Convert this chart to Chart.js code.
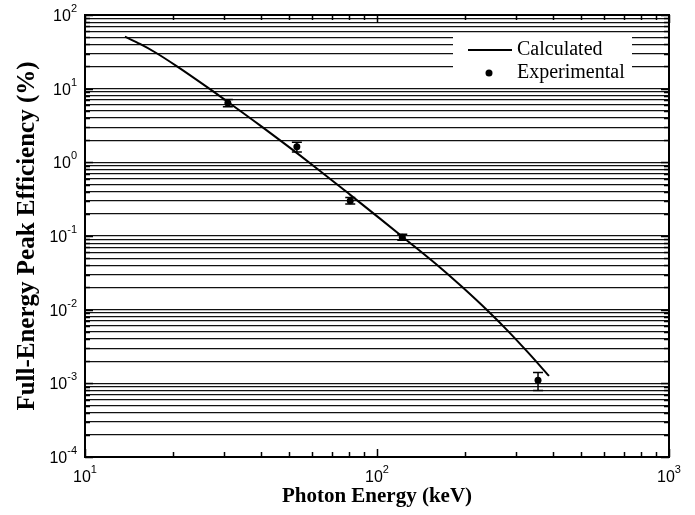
<!DOCTYPE html>
<html>
<head>
<meta charset="utf-8">
<script src="https://cdn.jsdelivr.net/npm/chart.js@4.4.0/dist/chart.umd.min.js"></script>
<style>
  html, body { margin: 0; padding: 0; background: #fff; }
</style>
</head>
<body>
<canvas id="myChart" width="695" height="515"></canvas>
<script>
// calculated full-energy peak efficiency curve (keV, %)
var calcEnergy = [13.7, 15.43, 17.37, 20.66, 26.8, 31.38, 39.76, 60.37, 80.8, 102.4, 122.7, 164.4, 195.5, 239.9, 285.4, 328.9, 388.2];
var calcEff = [50.8, 40.5, 31.2, 20.07, 9.84, 6.28, 3.17, 0.908, 0.3645, 0.1722, 0.0963, 0.03738, 0.0204, 0.00957, 0.00481, 0.002627, 0.00126];

// experimental points (Ba-133 and Co-57 lines)
var expEnergy = [30.85, 53.16, 80.99, 122.06, 356.01];
var expEff = [6.4, 1.63, 0.302, 0.0964, 0.0011];
var expErr = [0.7, 0.25, 0.03, 0.009, 0.0003];

// tick positions and labels
var xTickValues = [10, 20, 30, 40, 50, 60, 70, 80, 90, 100, 200, 300, 400, 500, 600, 700, 800, 900, 1000];
var xMajorValues = [10, 100, 1000];
var xTickLabels = ['10^1', '10^2', '10^3'];
var yMajorValues = [1e-4, 1e-3, 1e-2, 1e-1, 1, 10, 100];
var yTickLabels = ['10^-4', '10^-3', '10^-2', '10^-1', '10^0', '10^1', '10^2'];
var yMinorSteps = [2, 3, 4, 5, 6, 7, 8, 9];

var legendLabels = ['Calculated', 'Experimental'];

// build the y ticks: every 1..9 of each decade
var yTickValues = [];
yMajorValues.forEach(function(d, i) {
  yTickValues.push(d);
  if (i < yMajorValues.length - 1) {
    yMinorSteps.forEach(function(s) { yTickValues.push(s * d); });
  }
});

function drawPower(ctx, label, x, y, align) {
  var parts = label.split('^');
  ctx.font = '16px "Liberation Sans"';
  var wBase = ctx.measureText(parts[0]).width;
  ctx.font = '11px "Liberation Sans"';
  var wExp = ctx.measureText(parts[1]).width;
  var left = align === 'center' ? x - (wBase + wExp) / 2 : x - wBase - wExp;
  ctx.textAlign = 'left';
  ctx.textBaseline = 'alphabetic';
  ctx.fillStyle = '#000';
  ctx.font = '16px "Liberation Sans"';
  ctx.fillText(parts[0], left, y + 6);
  ctx.font = '11px "Liberation Sans"';
  ctx.fillText(parts[1], left + wBase, y - 3);
}

// error bars, frame, inside ticks, tick labels and legend
var chartDecor = {
  id: 'chartDecor',
  afterDatasetsDraw: function(chart) {
    var ctx = chart.ctx;
    var xs = chart.scales.x, ys = chart.scales.y;
    ctx.save();
    ctx.strokeStyle = '#000';
    ctx.lineWidth = 1.5;
    expEnergy.forEach(function(e, i) {
      var px = xs.getPixelForValue(e);
      var top = ys.getPixelForValue(expEff[i] + expErr[i]);
      var bot = ys.getPixelForValue(expEff[i] - expErr[i]);
      ctx.beginPath();
      ctx.moveTo(px, top); ctx.lineTo(px, bot);
      ctx.moveTo(px - 5, top); ctx.lineTo(px + 5, top);
      ctx.moveTo(px - 5, bot); ctx.lineTo(px + 5, bot);
      ctx.stroke();
    });
    ctx.restore();
  },
  afterDraw: function(chart) {
    var ctx = chart.ctx;
    var a = chart.chartArea;
    var xs = chart.scales.x, ys = chart.scales.y;
    ctx.save();
    ctx.strokeStyle = '#000';

    // inside ticks
    ctx.lineWidth = 1.5;
    ctx.beginPath();
    xTickValues.forEach(function(v) {
      var px = Math.round(xs.getPixelForValue(v)) + 0.5;
      var len = xMajorValues.indexOf(v) >= 0 ? 8 : 5;
      ctx.moveTo(px, a.bottom); ctx.lineTo(px, a.bottom - len);
      ctx.moveTo(px, a.top); ctx.lineTo(px, a.top + len);
    });
    yTickValues.forEach(function(v) {
      var py = Math.round(ys.getPixelForValue(v)) + 0.5;
      var len = yMajorValues.indexOf(v) >= 0 ? 8 : 5;
      ctx.moveTo(a.left, py); ctx.lineTo(a.left + len, py);
      ctx.moveTo(a.right, py); ctx.lineTo(a.right - len, py);
    });
    ctx.stroke();

    // frame
    ctx.lineWidth = 2;
    ctx.strokeRect(a.left, a.top, a.right - a.left, a.bottom - a.top);

    // tick labels
    xMajorValues.forEach(function(v, i) {
      drawPower(ctx, xTickLabels[i], xs.getPixelForValue(v), 476, 'center');
    });
    yMajorValues.forEach(function(v, i) {
      drawPower(ctx, yTickLabels[i], a.left - 8, ys.getPixelForValue(v), 'right');
    });

    // legend
    ctx.fillStyle = '#fff';
    ctx.fillRect(453, 33, 179, 55);
    ctx.strokeStyle = '#000';
    ctx.lineWidth = 2;
    ctx.beginPath();
    ctx.moveTo(468, 50); ctx.lineTo(512, 50);
    ctx.stroke();
    ctx.fillStyle = '#000';
    ctx.beginPath();
    ctx.arc(489, 73, 3.5, 0, Math.PI * 2);
    ctx.fill();
    ctx.font = '20px "Liberation Serif"';
    ctx.textAlign = 'left';
    ctx.textBaseline = 'middle';
    ctx.fillText(legendLabels[0], 517, 50);
    ctx.fillText(legendLabels[1], 517, 73);
    ctx.restore();
  }
};

var ctx = document.getElementById('myChart').getContext('2d');
var myChart = new Chart(ctx, {
  type: 'scatter',
  data: {
    datasets: [{
      label: legendLabels[0],
      data: calcEnergy.map(function(e, i) { return { x: e, y: calcEff[i] }; }),
      showLine: true,
      borderColor: '#000',
      borderWidth: 2,
      pointRadius: 0,
      cubicInterpolationMode: 'monotone',
      fill: false
    }, {
      label: legendLabels[1],
      data: expEnergy.map(function(e, i) { return { x: e, y: expEff[i] }; }),
      showLine: false,
      pointRadius: 3.5,
      backgroundColor: '#000',
      borderColor: '#000',
      borderWidth: 0
    }]
  },
  options: {
    responsive: false,
    animation: false,
    devicePixelRatio: 1,
    layout: { padding: { top: 15, right: 26, left: 0, bottom: 0 } },
    plugins: {
      legend: { display: false },
      tooltip: { enabled: false }
    },
    scales: {
      x: {
        type: 'logarithmic',
        min: 10,
        max: 1000,
        afterBuildTicks: function(s) {
          s.ticks = xTickValues.map(function(v) { return { value: v }; });
        },
        afterFit: function(s) { s.height = 58; },
        grid: { display: false, drawTicks: false },
        border: { display: false },
        ticks: { display: false },
        title: {
          display: true,
          text: 'Photon Energy (keV)',
          color: '#000',
          font: { family: 'Liberation Serif', size: 21, weight: 'bold' },
          padding: { top: 0, bottom: 6 }
        }
      },
      y: {
        type: 'logarithmic',
        min: 1e-4,
        max: 100,
        afterBuildTicks: function(s) {
          s.ticks = yTickValues.map(function(v) { return { value: v }; });
        },
        afterFit: function(s) { s.width = 85; },
        grid: { color: '#111', lineWidth: 1.2, drawTicks: false },
        border: { display: false },
        ticks: { display: false },
        title: {
          display: true,
          text: 'Full-Energy Peak Efficiency (%)',
          color: '#000',
          font: { family: 'Liberation Serif', size: 25, weight: 'bold' },
          padding: { top: 13, bottom: 0 }
        }
      }
    }
  },
  plugins: [chartDecor]
});
</script>
</body>
</html>
